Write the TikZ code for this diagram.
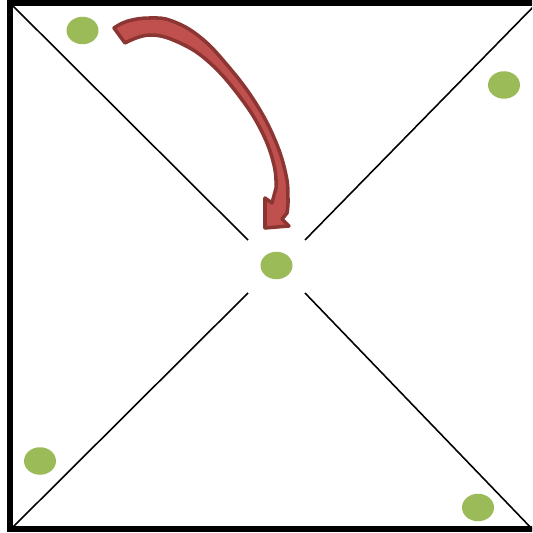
\documentclass[tikz,border=0pt]{standalone}
\usetikzlibrary{shapes.geometric}
\usepackage{xcolor}
\definecolor{dotgreen}{HTML}{9BBB59}
\definecolor{arrowfill}{HTML}{C0504D}
\definecolor{arrowedge}{HTML}{8C3634}

\begin{document}
\begin{tikzpicture}[
  x=0.02cm, y=-0.02cm,
  dot/.style={ellipse, fill=dotgreen, inner sep=0pt, minimum width=0.64cm, minimum height=0.55cm},
  diag/.style={draw, line width=0.9pt},
  frame/.style={draw, line width=2.9pt},
  bigarrow/.style={fill=arrowfill, draw=arrowedge, line width=2pt, line join=round}
]
\clip (0,0) rectangle (532,533);

% outer square
\coordinate (tl) at (10,3);
\coordinate (br) at (537,529);
\draw[frame] (tl) rectangle (br);

% diagonals, broken round the middle
\coordinate (ctl) at (11,4);
\coordinate (ctr) at (537,3);
\coordinate (cbl) at (11,529);
\coordinate (cbr) at (535,532);
\coordinate (gtl) at (248,240);
\coordinate (gtr) at (305,240);
\coordinate (gbl) at (248,293);
\coordinate (gbr) at (305,293);
\draw[diag] (ctl) -- (gtl);
\draw[diag] (gtr) -- (ctr);
\draw[diag] (gbl) -- (cbl);
\draw[diag] (gbr) -- (cbr);

% dots
\node[dot] (d1) at (82.5,30.5) {};
\node[dot] (d2) at (504,85) {};
\node[dot] (d3) at (276.5,265.5) {};
\node[dot] (d4) at (40,461) {};
\node[dot] (d5) at (478,507.5) {};

% curved arrow
\path[bigarrow] plot[smooth, tension=0.7] coordinates {(114,28) (128,21) (150,18) (172,21) (200,37) (228,66) (255,102) (275,140) (286,175) (288,200) (287,213)}
  -- (282,219) -- (289,226) -- (265,228) -- (265,198) -- (272,203)
  -- plot[smooth, tension=0.7] coordinates {(276,188) (274,165) (262,132) (240,97) (210,63) (180,43) (150,35) (125,43)}
  -- cycle;
\end{tikzpicture}
\end{document}
